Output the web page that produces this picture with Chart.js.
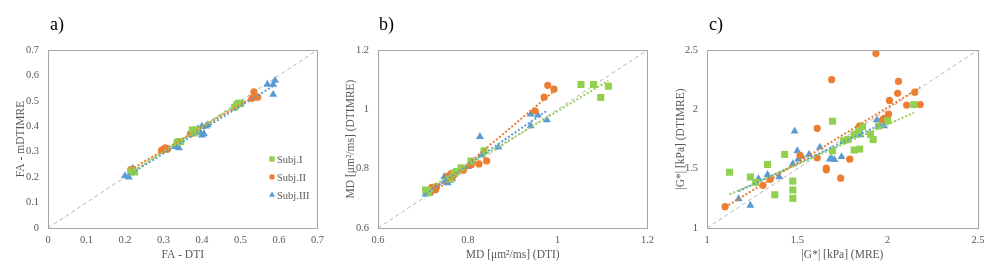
<!DOCTYPE html>
<html>
<head>
<meta charset="utf-8">
<script src="https://cdn.jsdelivr.net/npm/chart.js@4.4.1/dist/chart.umd.min.js"></script>
<style>
body { margin: 0; background: #fff; width: 1000px; height: 271px; overflow: hidden; position: relative; font-family: "Liberation Serif", serif; }
.box { position: absolute; top: 0; height: 271px; }
.lbl { position: absolute; top: 14px; font-size: 18px; line-height: 20px; color: #000; }
</style>
</head>
<body>
<div class="box" style="left:0;width:330px"><canvas id="chartA" width="330" height="271"></canvas></div>
<div class="box" style="left:330px;width:330px"><canvas id="chartB" width="330" height="271"></canvas></div>
<div class="box" style="left:660px;width:340px"><canvas id="chartC" width="340" height="271"></canvas></div>
<div class="lbl" style="left:50px">a)</div>
<div class="lbl" style="left:379px">b)</div>
<div class="lbl" style="left:709px">c)</div>
<script>
var seriesNames = ['Subj.I', 'Subj.II', 'Subj.III']

// a) FA
var faTicks = [0, 0.1, 0.2, 0.3, 0.4, 0.5, 0.6, 0.7]
var faSubj1 = [[0.215,0.22],[0.22,0.225],[0.225,0.22],[0.335,0.335],[0.34,0.34],[0.345,0.34],
  [0.375,0.385],[0.38,0.375],[0.385,0.385],[0.485,0.475],[0.49,0.485],[0.495,0.49],[0.5,0.49]]
var faSubj2 = [[0.215,0.23],[0.22,0.225],[0.295,0.305],[0.3,0.31],[0.305,0.315],[0.31,0.31],
  [0.37,0.37],[0.375,0.38],[0.38,0.375],[0.385,0.385],[0.53,0.51],[0.535,0.535],[0.54,0.515],[0.545,0.515]]
var faSubj3 = [[0.2,0.205],[0.21,0.2],[0.22,0.235],[0.33,0.32],[0.335,0.33],[0.34,0.315],
  [0.39,0.39],[0.395,0.375],[0.4,0.4],[0.4,0.365],[0.405,0.37],[0.41,0.4],[0.415,0.405],
  [0.57,0.565],[0.585,0.565],[0.59,0.58],[0.585,0.525]]

// b) MD
var mdTicks = [0.6, 0.8, 1, 1.2]
var mdSubj1 = [[0.706,0.728],[0.715,0.72],[0.76,0.765],[0.77,0.785],[0.775,0.79],[0.785,0.803],
  [0.807,0.826],[0.836,0.86],[1.052,1.084],[1.08,1.084],[1.096,1.04],[1.113,1.078]]
var mdSubj2 = [[0.72,0.737],[0.728,0.73],[0.73,0.74],[0.756,0.775],[0.763,0.783],[0.765,0.77],
  [0.77,0.78],[0.79,0.795],[0.807,0.812],[0.81,0.82],[0.825,0.816],[0.842,0.826],
  [0.95,0.994],[0.97,1.041],[0.978,1.081],[0.992,1.068]]
var mdSubj3 = [[0.706,0.714],[0.715,0.72],[0.72,0.73],[0.724,0.725],[0.748,0.773],[0.748,0.757],
  [0.755,0.752],[0.76,0.76],[0.765,0.765],[0.8,0.807],[0.83,0.845],[0.827,0.908],[0.868,0.872],
  [0.94,0.984],[0.94,0.944],[0.956,0.98],[0.976,0.964]]

// c) |G*|
var gTicks = [1, 1.5, 2, 2.5]
var gSubj1 = [[1.125,1.47],[1.24,1.43],[1.27,1.385],[1.335,1.535],[1.375,1.28],[1.43,1.62],
  [1.475,1.395],[1.475,1.32],[1.475,1.25],[1.695,1.9],[1.695,1.65],[1.755,1.735],[1.78,1.745],
  [1.815,1.79],[1.815,1.657],[1.845,1.665],[1.84,1.82],[1.86,1.855],[1.905,1.79],[1.92,1.745],
  [1.95,1.86],[2.0,1.905],[2.145,2.04]]
var gSubj2 = [[1.1,1.18],[1.31,1.36],[1.35,1.41],[1.515,1.61],[1.61,1.84],[1.61,1.593],
  [1.66,1.505],[1.66,1.49],[1.69,2.25],[1.74,1.42],[1.79,1.58],[1.845,1.86],[1.86,1.855],
  [1.935,2.47],[1.97,1.91],[1.98,1.925],[2.005,1.96],[2.01,2.075],[2.055,2.135],[2.06,2.235],
  [2.105,2.035],[2.15,2.145],[2.18,2.04]]
var gSubj3 = [[1.175,1.245],[1.24,1.19],[1.285,1.415],[1.335,1.45],[1.4,1.43],[1.475,1.54],
  [1.485,1.815],[1.5,1.65],[1.505,1.58],[1.525,1.605],[1.565,1.62],[1.625,1.68],[1.68,1.58],
  [1.69,1.585],[1.705,1.575],[1.745,1.6],[1.845,1.825],[1.85,1.785],[1.94,1.91],[1.98,1.86]]

var colors = ['#92d050', '#ed7d31', '#5b9bd5']
var styles = ['rect', 'circle', 'triangle']
var radii = [5, 3.6, 4.6]
var textColor = '#595959'
var serif = '"Liberation Serif", "Times New Roman", serif'

function toPts(arr) {
    return arr.map(function (p) { return { x: p[0], y: p[1] } })
}

function trend(arr) {
    var n = arr.length, sx = 0, sy = 0, sxx = 0, sxy = 0
    var mn = Infinity, mx = -Infinity
    for (let i = 0; i < n; i++) {
        let x = arr[i][0], y = arr[i][1]
        sx += x; sy += y; sxx += x * x; sxy += x * y
        if (x < mn) mn = x
        if (x > mx) mx = x
    }
    var b = (n * sxy - sx * sy) / (n * sxx - sx * sx)
    var a = (sy - b * sx) / n
    return [{ x: mn, y: a + b * mn }, { x: mx, y: a + b * mx }]
}

// grey box round the plot area
var frame = {
    id: 'frame',
    afterDraw: function (chart) {
        var c = chart.ctx, a = chart.chartArea
        c.save()
        c.strokeStyle = '#a6a6a6'
        c.lineWidth = 1
        c.strokeRect(Math.round(a.left) + 0.5, Math.round(a.top) + 0.5, Math.round(a.right - a.left), Math.round(a.bottom - a.top))
        c.restore()
    }
}

// legend inside the plot (only chart a)
var innerLegend = {
    id: 'innerLegend',
    afterDraw: function (chart, args, opts) {
        if (!opts.show) return
        var c = chart.ctx, a = chart.chartArea
        c.save()
        c.font = '10.5px ' + serif
        c.textBaseline = 'middle'
        var k = 0
        chart.data.datasets.forEach(function (ds) {
            if (!ds.inLegend) return
            var x = a.left + opts.x, y = opts.y + k * 18
            c.fillStyle = ds.backgroundColor
            Chart.helpers.drawPoint(c, { pointStyle: ds.pointStyle, radius: ds.pointRadius * 0.75, borderWidth: 0 }, x, y)
            c.fillStyle = textColor
            c.fillText(ds.label, x + 5, y + 1)
            k++
        })
        c.restore()
    }
}

function makeChart(id, series, ticks, min, max, xTitle, yTitle, plotLeft, padRight, showLegend) {
    var datasets = []
    series.forEach(function (s, i) {
        datasets.push({
            type: 'scatter',
            label: seriesNames[i],
            inLegend: true,
            data: toPts(s),
            backgroundColor: colors[i],
            borderColor: colors[i],
            borderWidth: 0,
            pointStyle: styles[i],
            pointRadius: radii[i],
            order: 1
        })
    })
    series.forEach(function (s, i) {
        datasets.push({
            type: 'line',
            label: 'trend ' + i,
            data: trend(s),
            borderColor: colors[i],
            borderWidth: 2,
            borderDash: [2, 2],
            pointRadius: 0,
            fill: false,
            order: 0
        })
    })
    datasets.push({
        type: 'line',
        label: 'y = x',
        data: [{ x: min, y: min }, { x: max, y: max }],
        borderColor: '#b4b4b4',
        borderWidth: 1,
        borderDash: [4, 3],
        pointRadius: 0,
        fill: false,
        order: 2
    })

    var tickFont = { family: serif, size: 10.5 }
    var titleFont = { family: serif, size: 11.5 }

    return new Chart(document.getElementById(id), {
        type: 'scatter',
        data: { datasets: datasets },
        plugins: [frame, innerLegend],
        options: {
            responsive: false,
            animation: false,
            devicePixelRatio: 1,
            layout: { padding: { top: 50, right: padRight, left: 0, bottom: 0 } },
            plugins: {
                legend: { display: false },
                tooltip: { enabled: false },
                innerLegend: { show: showLegend, x: 224, y: 159 }
            },
            scales: {
                x: {
                    type: 'linear',
                    min: min, max: max,
                    grid: { display: false, drawTicks: false },
                    border: { display: false },
                    afterBuildTicks: function (scale) { scale.ticks = ticks.map(function (v) { return { value: v } }) },
                    afterFit: function (scale) { scale.height = 43 },
                    ticks: { color: textColor, font: tickFont, padding: 6, maxRotation: 0, callback: function (v) { return String(v) } },
                    title: { display: true, text: xTitle, color: textColor, font: titleFont, padding: { top: 0, bottom: 9 } }
                },
                y: {
                    type: 'linear',
                    min: min, max: max,
                    grid: { display: false, drawTicks: false },
                    border: { display: false },
                    afterBuildTicks: function (scale) { scale.ticks = ticks.map(function (v) { return { value: v } }) },
                    afterFit: function (scale) { scale.width = plotLeft },
                    ticks: { color: textColor, font: tickFont, padding: 9, callback: function (v) { return String(v) } },
                    title: { display: true, text: yTitle, color: textColor, font: titleFont, padding: { top: 14, bottom: 0 } }
                }
            }
        }
    })
}

makeChart('chartA', [faSubj1, faSubj2, faSubj3], faTicks, 0, 0.7, 'FA - DTI', 'FA - mDTIMRE', 48, 9, true)
makeChart('chartB', [mdSubj1, mdSubj2, mdSubj3], mdTicks, 0.6, 1.2, 'MD [μm²/ms] (DTI)', 'MD [μm²/ms] (DTIMRE)', 48, 10, false)
makeChart('chartC', [gSubj1, gSubj2, gSubj3], gTicks, 1, 2.5, '|G*| [kPa] (MRE)', '|G*| [kPa] (DTIMRE)', 47, 22, false)
</script>
</body>
</html>
